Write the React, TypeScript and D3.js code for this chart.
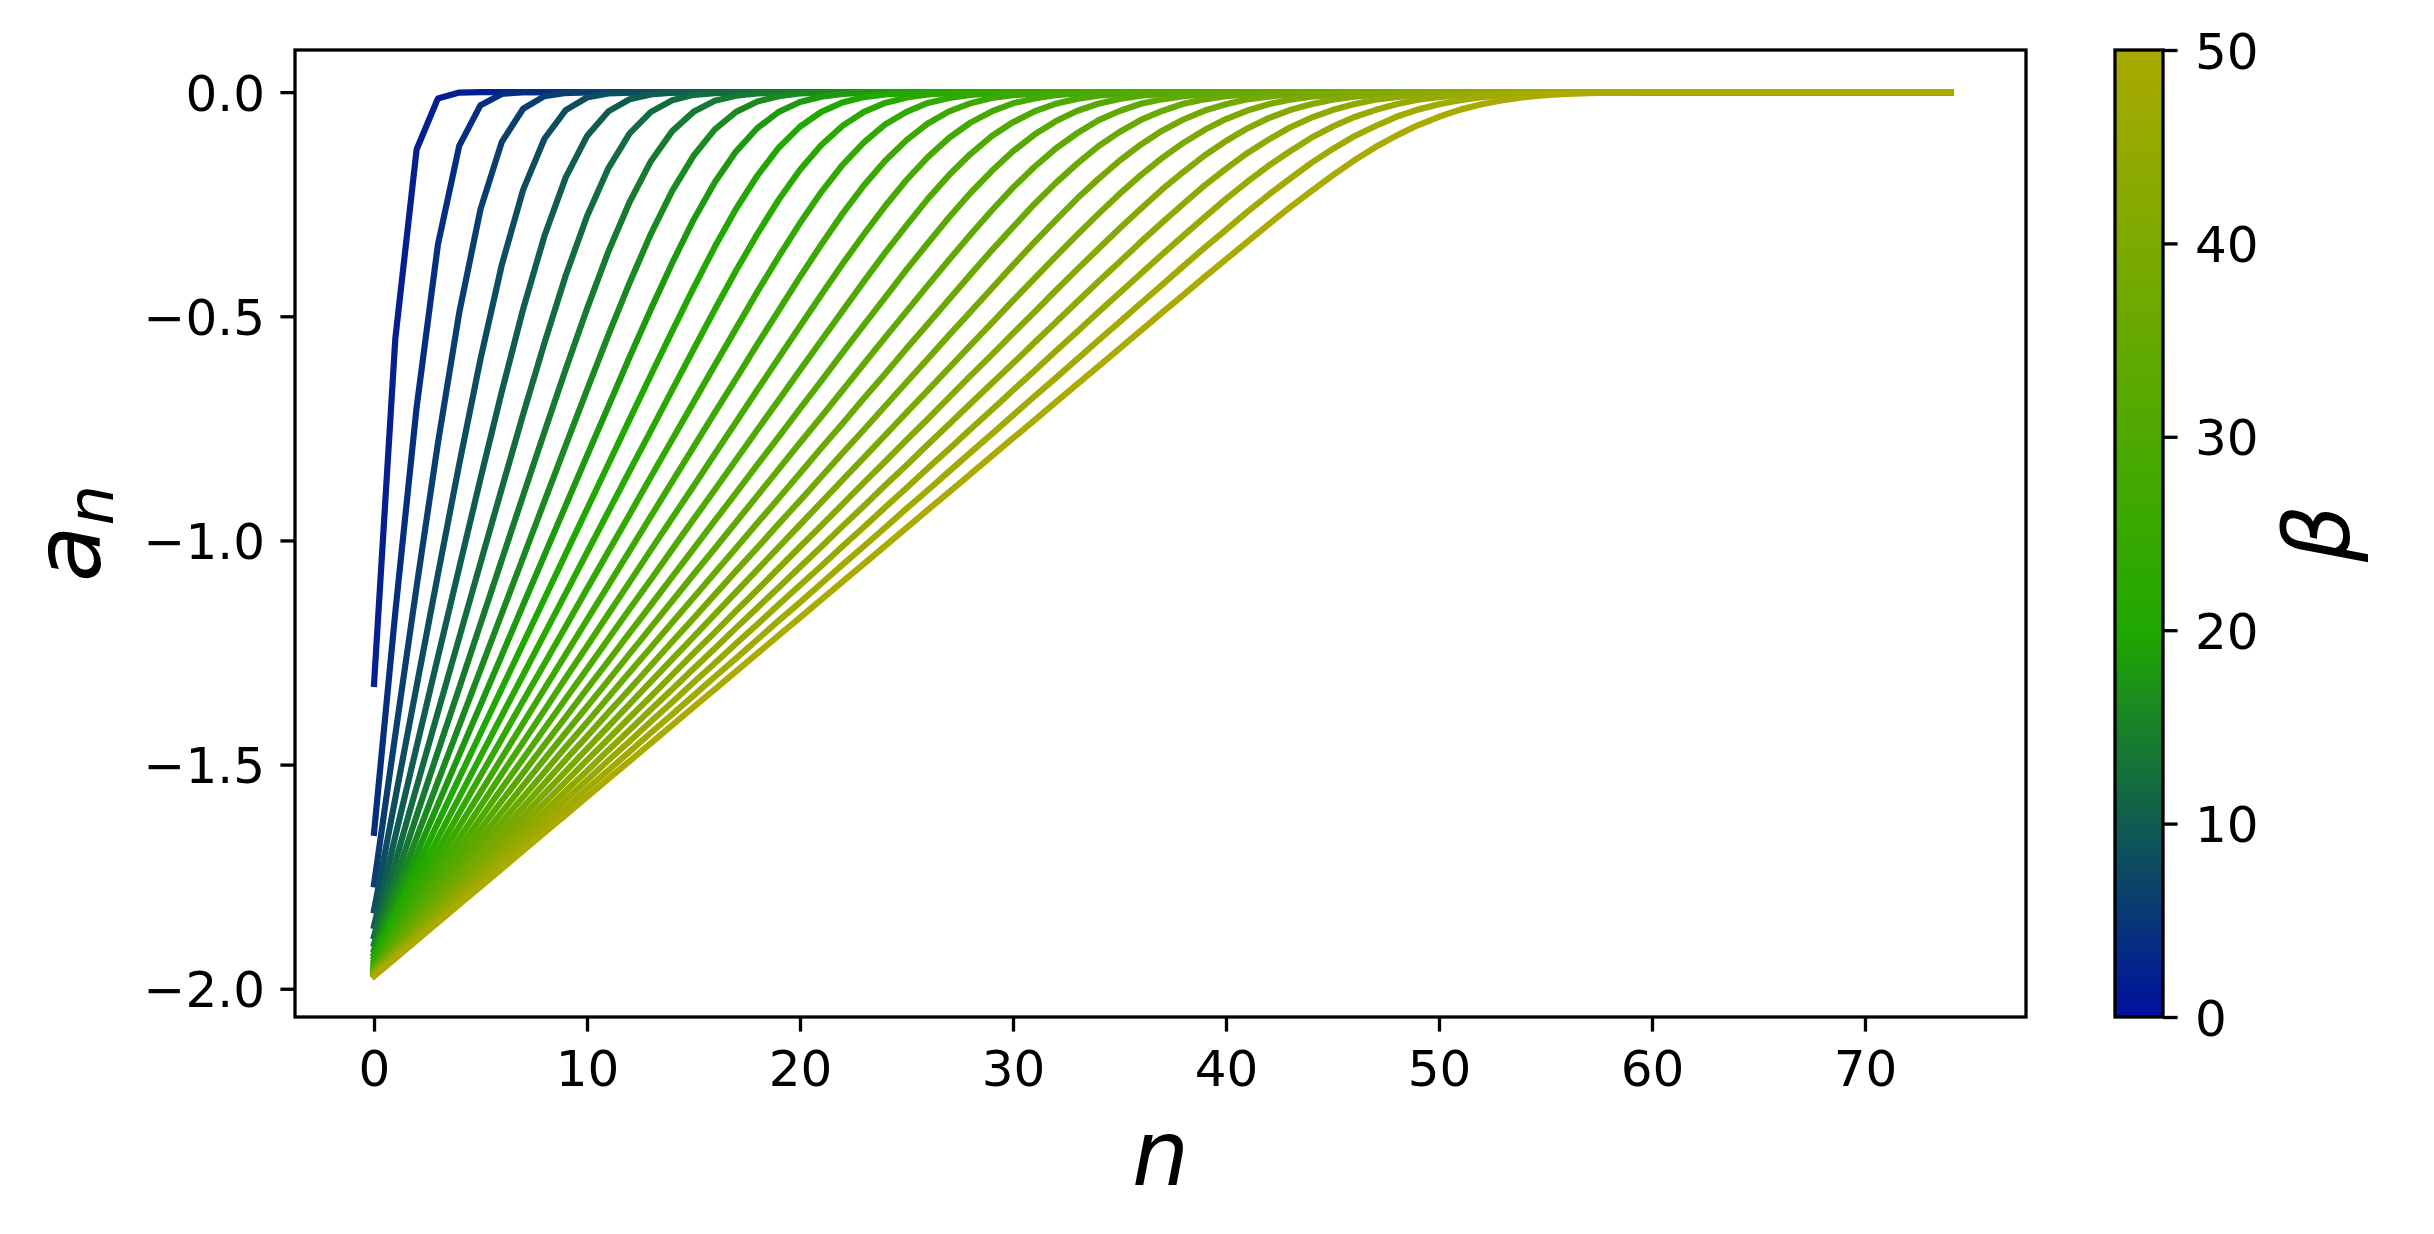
import { useEffect, useRef } from "react";
import * as d3 from "d3";

// canvas + plot frame (px, full-size reference)
const W = 2434;
const H = 1234;
const PL = 295, PR = 2026, PT = 50, PB = 1017;
const CB_L = 2115, CB_R = 2163;

const FONT = "'DejaVu Sans', 'Liberation Sans', sans-serif";

// ── data ────────────────────────────────────────────────────────────────────
const N_MAX = 74; // every curve runs n = 0 … 74, sitting on 0 after its knee
const BETAS = [2, 4, 6, 8, 10, 12, 14, 16, 18, 20, 22, 24, 26, 28, 30, 32, 34, 36, 38, 40, 42, 44, 46, 48, 50];

const A_B2 = [-1.32, -0.55, -0.128, -0.014, -0.001];
const A_B4 = [-1.652, -1.16, -0.703, -0.34, -0.12, -0.029, -0.004];
const A_B6 = [-1.767, -1.433, -1.103, -0.783, -0.492, -0.261, -0.111, -0.037, -0.009, -0.002];
const A_B8 = [-1.825, -1.575, -1.325, -1.076, -0.83, -0.595, -0.385, -0.218, -0.104, -0.04, -0.012, -0.003, -0.001];
const A_B10 = [-1.86, -1.66, -1.46, -1.26, -1.061, -0.862, -0.668, -0.484, -0.321, -0.19, -0.098, -0.043, -0.016, -0.005, -0.001];
const A_B12 = [-1.883, -1.717, -1.55, -1.383, -1.217, -1.05, -0.884, -0.719, -0.56, -0.409, -0.277, -0.17, -0.092, -0.044, -0.018, -0.006, -0.002];
const A_B14 = [-1.9, -1.757, -1.614, -1.471, -1.329, -1.186, -1.043, -0.9, -0.758, -0.618, -0.483, -0.356, -0.245, -0.154, -0.087, -0.044, -0.019, -0.008, -0.003, -0.001];
const A_B16 = [-1.913, -1.788, -1.663, -1.538, -1.413, -1.288, -1.163, -1.038, -0.913, -0.788, -0.664, -0.542, -0.425, -0.316, -0.22, -0.142, -0.083, -0.044, -0.021, -0.009, -0.003, -0.001];
const A_B18 = [-1.922, -1.811, -1.7, -1.589, -1.478, -1.367, -1.256, -1.144, -1.033, -0.922, -0.811, -0.701, -0.591, -0.484, -0.381, -0.285, -0.201, -0.132, -0.08, -0.044, -0.022, -0.01, -0.004, -0.001];
const A_B20 = [-1.93, -1.83, -1.73, -1.63, -1.53, -1.43, -1.33, -1.23, -1.13, -1.03, -0.93, -0.83, -0.73, -0.631, -0.533, -0.437, -0.345, -0.26, -0.186, -0.124, -0.077, -0.044, -0.023, -0.011, -0.005, -0.002, -0.001];
const A_B22 = [-1.936, -1.845, -1.755, -1.664, -1.573, -1.482, -1.391, -1.3, -1.209, -1.118, -1.027, -0.936, -0.845, -0.755, -0.664, -0.574, -0.485, -0.398, -0.316, -0.24, -0.173, -0.118, -0.075, -0.044, -0.024, -0.012, -0.005, -0.002, -0.001];
const A_B24 = [-1.942, -1.858, -1.775, -1.692, -1.608, -1.525, -1.442, -1.358, -1.275, -1.192, -1.108, -1.025, -0.942, -0.858, -0.775, -0.692, -0.609, -0.527, -0.445, -0.367, -0.292, -0.223, -0.162, -0.112, -0.072, -0.044, -0.024, -0.013, -0.006, -0.003, -0.001];
const A_B26 = [-1.946, -1.869, -1.792, -1.715, -1.638, -1.562, -1.485, -1.408, -1.331, -1.254, -1.177, -1.1, -1.023, -0.946, -0.869, -0.792, -0.715, -0.639, -0.562, -0.487, -0.412, -0.34, -0.271, -0.208, -0.153, -0.107, -0.07, -0.043, -0.025, -0.013, -0.007, -0.003, -0.001];
const A_B28 = [-1.95, -1.879, -1.807, -1.736, -1.664, -1.593, -1.521, -1.45, -1.379, -1.307, -1.236, -1.164, -1.093, -1.021, -0.95, -0.879, -0.807, -0.736, -0.664, -0.593, -0.522, -0.452, -0.383, -0.317, -0.254, -0.196, -0.145, -0.102, -0.068, -0.043, -0.025, -0.014, -0.007, -0.003, -0.002, -0.001];
const A_B30 = [-1.953, -1.887, -1.82, -1.753, -1.687, -1.62, -1.553, -1.487, -1.42, -1.353, -1.287, -1.22, -1.153, -1.087, -1.02, -0.953, -0.887, -0.82, -0.753, -0.687, -0.62, -0.554, -0.488, -0.422, -0.358, -0.297, -0.238, -0.185, -0.138, -0.098, -0.067, -0.043, -0.026, -0.015, -0.008, -0.004, -0.002, -0.001];
const A_B32 = [-1.956, -1.894, -1.831, -1.769, -1.706, -1.644, -1.581, -1.519, -1.456, -1.394, -1.331, -1.269, -1.206, -1.144, -1.081, -1.019, -0.956, -0.894, -0.831, -0.769, -0.706, -0.644, -0.581, -0.519, -0.458, -0.396, -0.337, -0.279, -0.225, -0.176, -0.132, -0.095, -0.065, -0.042, -0.026, -0.015, -0.008, -0.004, -0.002, -0.001];
const A_B34 = [-1.959, -1.9, -1.841, -1.782, -1.724, -1.665, -1.606, -1.547, -1.488, -1.429, -1.371, -1.312, -1.253, -1.194, -1.135, -1.076, -1.018, -0.959, -0.9, -0.841, -0.782, -0.724, -0.665, -0.606, -0.547, -0.489, -0.431, -0.374, -0.318, -0.264, -0.213, -0.167, -0.126, -0.092, -0.063, -0.042, -0.026, -0.016, -0.009, -0.005, -0.002, -0.001];
const A_B36 = [-1.961, -1.906, -1.85, -1.794, -1.739, -1.683, -1.628, -1.572, -1.517, -1.461, -1.406, -1.35, -1.294, -1.239, -1.183, -1.128, -1.072, -1.017, -0.961, -0.906, -0.85, -0.794, -0.739, -0.683, -0.628, -0.572, -0.517, -0.462, -0.407, -0.353, -0.301, -0.25, -0.203, -0.16, -0.121, -0.089, -0.062, -0.042, -0.026, -0.016, -0.009, -0.005, -0.003, -0.001];
const A_B38 = [-1.963, -1.911, -1.858, -1.805, -1.753, -1.7, -1.647, -1.595, -1.542, -1.489, -1.437, -1.384, -1.332, -1.279, -1.226, -1.174, -1.121, -1.068, -1.016, -0.963, -0.911, -0.858, -0.805, -0.753, -0.7, -0.647, -0.595, -0.542, -0.49, -0.438, -0.386, -0.335, -0.286, -0.238, -0.194, -0.153, -0.117, -0.086, -0.061, -0.041, -0.027, -0.016, -0.01, -0.005, -0.003, -0.001, -0.001];
const A_B40 = [-1.965, -1.915, -1.865, -1.815, -1.765, -1.715, -1.665, -1.615, -1.565, -1.515, -1.465, -1.415, -1.365, -1.315, -1.265, -1.215, -1.165, -1.115, -1.065, -1.015, -0.965, -0.915, -0.865, -0.815, -0.765, -0.715, -0.665, -0.615, -0.565, -0.515, -0.465, -0.416, -0.367, -0.319, -0.272, -0.227, -0.185, -0.147, -0.113, -0.084, -0.06, -0.041, -0.027, -0.017, -0.01, -0.006, -0.003, -0.002, -0.001];
const A_B42 = [-1.967, -1.919, -1.871, -1.824, -1.776, -1.729, -1.681, -1.633, -1.586, -1.538, -1.49, -1.443, -1.395, -1.348, -1.3, -1.252, -1.205, -1.157, -1.11, -1.062, -1.014, -0.967, -0.919, -0.871, -0.824, -0.776, -0.729, -0.681, -0.633, -0.586, -0.538, -0.491, -0.443, -0.396, -0.35, -0.304, -0.26, -0.217, -0.178, -0.141, -0.109, -0.081, -0.058, -0.04, -0.027, -0.017, -0.01, -0.006, -0.003, -0.002, -0.001];
const A_B44 = [-1.968, -1.923, -1.877, -1.832, -1.786, -1.741, -1.695, -1.65, -1.605, -1.559, -1.514, -1.468, -1.423, -1.377, -1.332, -1.286, -1.241, -1.195, -1.15, -1.105, -1.059, -1.014, -0.968, -0.923, -0.877, -0.832, -0.786, -0.741, -0.695, -0.65, -0.605, -0.559, -0.514, -0.468, -0.423, -0.379, -0.334, -0.291, -0.249, -0.208, -0.171, -0.136, -0.106, -0.079, -0.057, -0.04, -0.027, -0.017, -0.011, -0.006, -0.003, -0.002, -0.001];
const A_B46 = [-1.97, -1.926, -1.883, -1.839, -1.796, -1.752, -1.709, -1.665, -1.622, -1.578, -1.535, -1.491, -1.448, -1.404, -1.361, -1.317, -1.274, -1.23, -1.187, -1.143, -1.1, -1.057, -1.013, -0.97, -0.926, -0.883, -0.839, -0.796, -0.752, -0.709, -0.665, -0.622, -0.578, -0.535, -0.491, -0.448, -0.405, -0.362, -0.32, -0.279, -0.238, -0.2, -0.164, -0.132, -0.102, -0.077, -0.056, -0.04, -0.027, -0.017, -0.011, -0.006, -0.004, -0.002, -0.001];
const A_B48 = [-1.971, -1.929, -1.888, -1.846, -1.804, -1.763, -1.721, -1.679, -1.638, -1.596, -1.554, -1.513, -1.471, -1.429, -1.388, -1.346, -1.304, -1.263, -1.221, -1.179, -1.138, -1.096, -1.054, -1.013, -0.971, -0.929, -0.888, -0.846, -0.804, -0.763, -0.721, -0.679, -0.638, -0.596, -0.554, -0.513, -0.471, -0.43, -0.388, -0.347, -0.307, -0.267, -0.229, -0.193, -0.158, -0.127, -0.099, -0.076, -0.055, -0.039, -0.027, -0.018, -0.011, -0.007, -0.004, -0.002, -0.001, -0.001];
const A_B50 = [-1.972, -1.932, -1.892, -1.852, -1.812, -1.772, -1.732, -1.692, -1.652, -1.612, -1.572, -1.532, -1.492, -1.452, -1.412, -1.372, -1.332, -1.292, -1.252, -1.212, -1.172, -1.132, -1.092, -1.052, -1.012, -0.972, -0.932, -0.892, -0.852, -0.812, -0.772, -0.732, -0.692, -0.652, -0.612, -0.572, -0.532, -0.492, -0.452, -0.412, -0.373, -0.334, -0.295, -0.257, -0.221, -0.186, -0.153, -0.123, -0.097, -0.074, -0.055, -0.039, -0.027, -0.018, -0.011, -0.007, -0.004, -0.002, -0.001, -0.001];

const SERIES = [A_B2, A_B4, A_B6, A_B8, A_B10, A_B12, A_B14, A_B16, A_B18, A_B20, A_B22, A_B24, A_B26,
  A_B28, A_B30, A_B32, A_B34, A_B36, A_B38, A_B40, A_B42, A_B44, A_B46, A_B48, A_B50];

const X_TICKS = [0, 10, 20, 30, 40, 50, 60, 70];
const Y_TICKS = [0, -0.5, -1, -1.5, -2];
const CB_TICKS = [0, 10, 20, 30, 40, 50];

// custom blue → green → olive map over beta
const CMAP_AT = [0, 20, 50];
const CMAP_COL = ["#0010a0", "#20a800", "#aaaa00"];

export default function App() {
  const svgRef = useRef<SVGSVGElement>(null);

  useEffect(() => {
    if (!svgRef.current) return;
    const svg = d3.select(svgRef.current);
    svg.selectAll("*").remove();

    const x = d3.scaleLinear().domain([-3.71, 77.56]).range([PL, PR]);
    const y = d3.scaleLinear().domain([-2.063, 0.094]).range([PB, PT]);
    const cb = d3.scaleLinear().domain([0, 50]).range([PB, PT]);
    const color = d3.scaleLinear<string>().domain(CMAP_AT).range(CMAP_COL).interpolate(d3.interpolateRgb);

    svg.append("rect").attr("width", W).attr("height", H).attr("fill", "#fff");

    // ── curves ──
    const line = d3.line<number>().x((_, i) => x(i)).y(d => y(d));
    BETAS.forEach((b, k) => {
      const vals = d3.range(N_MAX + 1).map(n => (n < SERIES[k].length ? SERIES[k][n] : 0));
      svg.append("path")
        .attr("d", line(vals))
        .attr("fill", "none")
        .attr("stroke", color(b))
        .attr("stroke-width", 6.2)
        .attr("stroke-linejoin", "round")
        .attr("stroke-linecap", "square");
    });

    const styleAxis = (sel: any) => {
      sel.select(".domain").remove();
      sel.selectAll("line").attr("stroke", "#000").attr("stroke-width", 3.3);
      sel.selectAll("text")
        .attr("fill", "#000").attr("font-size", 50)
        .attr("font-family", FONT);
    };

    // ── axes ──
    svg.append("g")
      .attr("transform", `translate(0,${PB})`)
      .call(d3.axisBottom(x).tickValues(X_TICKS).tickSize(14.6).tickFormat(d3.format("d")))
      .call(styleAxis)
      .call(g => g.selectAll("text").attr("y", 69).attr("dy", null));

    svg.append("g")
      .attr("transform", `translate(${PL},0)`)
      .call(d3.axisLeft(y).tickValues(Y_TICKS).tickSize(14.6).tickFormat(d3.format(".1f")))
      .call(styleAxis)
      .call(g => g.selectAll("text").attr("x", -30).attr("dy", "0.36em"));

    svg.append("rect")
      .attr("x", PL).attr("y", PT).attr("width", PR - PL).attr("height", PB - PT)
      .attr("fill", "none").attr("stroke", "#000").attr("stroke-width", 3.3);

    // ── colorbar ──
    const grad = svg.append("defs").append("linearGradient")
      .attr("id", "cbgrad").attr("x1", 0).attr("y1", 1).attr("x2", 0).attr("y2", 0);
    CMAP_AT.forEach((v, i) => {
      grad.append("stop").attr("offset", v / 50).attr("stop-color", CMAP_COL[i]);
    });
    svg.append("rect")
      .attr("x", CB_L).attr("y", PT).attr("width", CB_R - CB_L).attr("height", PB - PT)
      .attr("fill", "url(#cbgrad)").attr("stroke", "#000").attr("stroke-width", 3.3);

    svg.append("g")
      .attr("transform", `translate(${CB_R},0)`)
      .call(d3.axisRight(cb).tickValues(CB_TICKS).tickSize(14.6).tickFormat(d3.format("d")))
      .call(styleAxis)
      .call(g => g.selectAll("text").attr("x", 32).attr("dy", "0.36em"));

    // ── labels ──
    svg.append("text")
      .attr("x", (PL + PR) / 2).attr("y", 1185)
      .attr("text-anchor", "middle").attr("font-family", FONT)
      .attr("font-style", "italic").attr("font-size", 90).text("n");

    const yl = svg.append("text")
      .attr("transform", `translate(100,${(PT + PB) / 2}) rotate(-90)`)
      .attr("text-anchor", "middle").attr("font-family", FONT)
      .attr("font-style", "italic").attr("font-size", 92);
    yl.append("tspan").text("a");
    yl.append("tspan").attr("font-size", 64).attr("dy", 13).text("n");

    svg.append("text")
      .attr("transform", `translate(2349,${(PT + PB) / 2}) rotate(-90)`)
      .attr("text-anchor", "middle").attr("font-family", FONT)
      .attr("font-style", "italic").attr("font-size", 90).text("β");
  }, []);

  return (
    <div style={{ position: "absolute", left: 0, top: 0 }}>
      <svg ref={svgRef} width={W} height={H} style={{ display: "block" }} />
    </div>
  );
}
